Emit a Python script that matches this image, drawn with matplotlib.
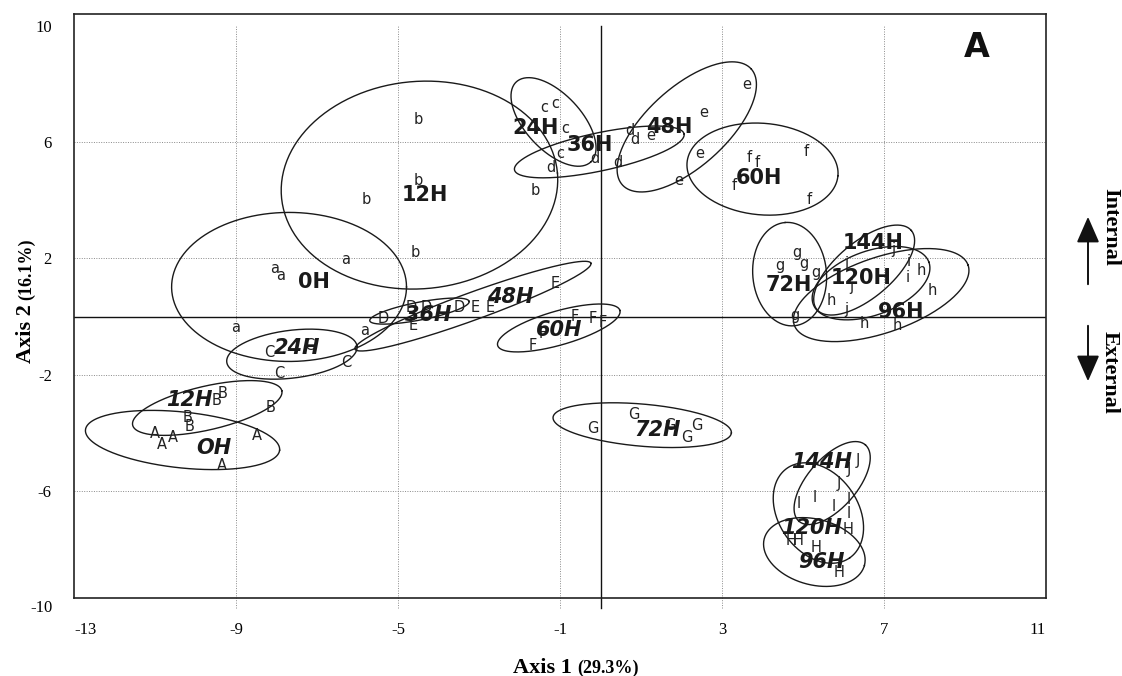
import numpy as np
import matplotlib
matplotlib.use('Agg')
import matplotlib.pyplot as plt

# ---- data: internal (lowercase) groups ----
int_names = ['0H', '12H', '24H', '36H', '48H', '60H', '72H', '96H', '120H', '144H']
int_letters = ['a', 'b', 'c', 'd', 'e', 'f', 'g', 'h', 'i', 'j']
int_a = [(-8.04, 1.67), (-7.91, 1.40), (-6.29, 1.98), (-9.02, -0.39), (-5.83, -0.49)]
int_b = [(-4.50, 6.76), (-4.50, 4.69), (-5.78, 4.01), (-4.57, 2.22), (-1.60, 4.35)]
int_c = [(-1.38, 7.20), (-1.11, 7.34), (-0.86, 6.48), (-0.99, 5.62)]
int_d = [(-1.23, 5.14), (-0.13, 5.45), (0.42, 5.28), (0.73, 6.41), (0.86, 6.07)]
int_e = [(3.61, 7.96), (2.55, 7.00), (1.23, 6.24), (2.45, 5.62), (1.94, 4.69)]
int_f = [(3.68, 5.48), (3.86, 5.28), (5.08, 5.66), (5.16, 4.01), (3.29, 4.52)]
int_g = [(4.42, 1.77), (4.84, 2.19), (5.01, 1.84), (5.33, 1.50), (4.79, 0.05)]
int_h = [(5.70, 0.57), (6.51, -0.22), (7.34, -0.29), (7.91, 1.60), (8.20, 0.91)]
int_i = [(6.07, 1.84), (7.61, 1.88), (7.59, 1.33)]
int_j = [(6.19, 1.02), (6.07, 0.23), (7.22, 2.29)]
int_points = [int_a, int_b, int_c, int_d, int_e, int_f, int_g, int_h, int_i, int_j]
int_lab_x = [-7.08, -4.33, -1.60, -0.27, 1.69, 3.90, 4.64, 7.42, 6.43, 6.73]
int_lab_y = [1.19, 4.18, 6.48, 5.90, 6.52, 4.76, 1.09, 0.16, 1.33, 2.53]
# ellipse: centre, semi-axes (x units), angle (deg)
int_ell_cx = [-7.69, -4.47, -1.16, -0.03, 2.13, 4.00, 4.67, 6.93, 6.68, 6.51]
int_ell_cy = [1.02, 4.52, 6.69, 5.66, 6.52, 5.07, 1.46, 0.74, 1.15, 1.60]
int_ell_a = [2.90, 3.42, 1.35, 2.14, 2.14, 1.87, 1.28, 2.27, 1.52, 1.52]
int_ell_b = [1.84, 2.56, 0.69, 0.47, 0.98, 1.13, 0.91, 0.93, 0.79, 0.69]
int_ell_ang = [0, 5, -47, 12, 42, -5, 95, 19, 20, 40]

# ---- data: external (uppercase) groups ----
ext_names = ['OH', '12H', '24H', '36H', '48H', '60H', '72H', '96H', '120H', '144H']
ext_letters = ['A', 'B', 'C', 'D', 'E', 'F', 'G', 'H', 'I', 'J']
ext_A = [(-11.01, -4.00), (-10.84, -4.41), (-10.57, -4.14), (-8.48, -4.07), (-9.34, -5.10)]
ext_B = [(-9.34, -2.63), (-9.49, -2.87), (-8.14, -3.14), (-10.20, -3.48), (-10.15, -3.79)]
ext_C = [(-8.18, -1.25), (-7.94, -1.94), (-6.29, -1.56), (-7.20, -0.98)]
ext_D = [(-5.36, -0.05), (-4.67, 0.30), (-4.30, 0.33), (-3.49, 0.30)]
ext_E = [(-4.62, -0.32), (-3.10, 0.30), (-2.73, 0.30), (-1.11, 1.15)]
ext_F = [(-1.67, -0.98), (-0.64, -0.01), (-0.20, -0.05), (0.05, -0.19), (-1.43, -0.57)]
ext_G = [(-0.20, -3.83), (0.83, -3.38), (2.14, -4.14), (2.38, -3.73), (1.72, -3.73)]
ext_H = [(4.71, -7.68), (4.89, -7.68), (5.33, -7.95), (5.89, -8.78), (6.12, -7.33)]
ext_I = [(4.89, -6.41), (5.28, -6.23), (5.75, -6.54), (6.12, -6.30), (6.12, -6.75)]
ext_J = [(5.89, -5.72), (6.14, -5.27), (6.36, -4.93)]
ext_points = [ext_A, ext_B, ext_C, ext_D, ext_E, ext_F, ext_G, ext_H, ext_I, ext_J]
ext_lab_x = [-9.54, -10.15, -7.50, -4.25, -2.24, -1.01, 1.40, 5.45, 5.21, 5.45]
ext_lab_y = [-4.52, -2.87, -1.08, 0.05, 0.67, -0.46, -3.90, -8.43, -7.26, -5.00]
ext_ell_cx = [-10.32, -9.71, -7.62, -4.47, -3.15, -1.03, 1.03, 5.28, 5.38, 5.72]
ext_ell_cy = [-4.24, -3.14, -1.29, 0.19, 0.36, -0.39, -3.73, -8.09, -6.75, -5.72]
ext_ell_a = [2.41, 1.89, 1.62, 1.25, 3.10, 1.57, 2.21, 1.28, 1.35, 1.25]
ext_ell_b = [0.69, 0.54, 0.59, 0.22, 0.34, 0.42, 0.52, 0.81, 0.98, 0.61]
ext_ell_ang = [-6, 13, 7, 11, 20, 16, -5, -15, -55, 49]

x_ticks = [-13, -9, -5, -1, 3, 7, 11]
y_ticks = [-10, -6, -2, 2, 6, 10]

SERIF = 'Liberation Serif'
SANS = 'DejaVu Sans'


def draw_ellipse(ax, cx, cy, a, b, ang, k):
    t = np.linspace(0, 2 * np.pi, 240)
    th = np.radians(ang)
    dx = a * np.cos(t) * np.cos(th) - b * np.sin(t) * np.sin(th)
    dy = a * np.cos(t) * np.sin(th) + b * np.sin(t) * np.cos(th)
    ax.plot(cx + dx, cy + dy * k, color='#1a1a1a', lw=1.0, zorder=3)


fig = plt.figure(figsize=(11.22, 6.76), dpi=100)
ax = fig.add_axes([74 / 1122, 1 - 598 / 676, 972 / 1122, 584 / 676])
ax.set_xlim(-13, 11)
ax.set_ylim(-9.67, 10.40)

# ratio of pixels per x unit to pixels per y unit
pos = ax.get_position()
k = (pos.width * 1122 / 24.0) / (pos.height * 676 / 20.07)

for s in ax.spines.values():
    s.set_linewidth(1.2)
    s.set_color('#222222')

# grid
for xv in x_ticks[1:-1]:
    ax.plot([xv, xv], [-10, 10], color='#8a8a8a', lw=0.7, ls=(0, (1, 1.5)),
            clip_on=False, zorder=1)
for yv in y_ticks[1:-1]:
    ax.plot([-13, 11], [yv, yv], color='#8a8a8a', lw=0.7, ls=(0, (1, 1.5)), zorder=1)

# axis lines
ax.plot([0, 0], [-10, 10], color='#111111', lw=1.0, clip_on=False, zorder=2)
ax.axhline(0, color='#111111', lw=1.0, zorder=2)

# ticks
ax.set_xticks(x_ticks)
ax.set_xticklabels([str(v) for v in x_ticks], family=SERIF, fontsize=12)
ax.set_yticks(y_ticks[1:])
ax.set_yticklabels([str(v) for v in y_ticks[1:]], family=SERIF, fontsize=12)
ax.tick_params(axis='x', length=0, pad=17)
ax.tick_params(axis='y', length=0, pad=16)
xl = ax.get_xticklabels()
xl[0].set_ha('left')
xl[-1].set_ha('right')
ax.text(-13.54, y_ticks[0], str(y_ticks[0]), ha='right', va='center',
        family=SERIF, fontsize=12, clip_on=False)

# groups
for i in range(len(int_names)):
    draw_ellipse(ax, int_ell_cx[i], int_ell_cy[i], int_ell_a[i], int_ell_b[i],
                 int_ell_ang[i], k)
    for (px, py) in int_points[i]:
        ax.text(px, py, int_letters[i], ha='center', va='center', family=SANS,
                fontsize=10.5, color='#222222', zorder=4)
    ax.text(int_lab_x[i], int_lab_y[i], int_names[i], ha='center', va='center',
            family=SANS, fontsize=15, fontweight='bold', color='#1a1a1a', zorder=5)

for i in range(len(ext_names)):
    draw_ellipse(ax, ext_ell_cx[i], ext_ell_cy[i], ext_ell_a[i], ext_ell_b[i],
                 ext_ell_ang[i], k)
    for (px, py) in ext_points[i]:
        ax.text(px, py, ext_letters[i], ha='center', va='center', family=SANS,
                fontsize=10.5, color='#222222', zorder=4)
    ax.text(ext_lab_x[i], ext_lab_y[i], ext_names[i], ha='center', va='center',
            family=SANS, fontsize=15, fontweight='bold', fontstyle='italic',
            color='#1a1a1a', zorder=5)

# panel letter
ax.text(9.3, 9.25, 'A', ha='center', va='center', family=SANS, fontsize=24,
        fontweight='bold', color='#111111')

# axis titles
fig.text(572 / 1122, 3 / 676, 'Axis 1', ha='right', va='baseline', family=SERIF,
         fontsize=16, fontweight='bold')
fig.text(577 / 1122, 3 / 676, '(29.3%)', ha='left', va='baseline', family=SERIF,
         fontsize=13, fontweight='bold')
fig.text(31 / 1122, 1 - 304 / 676, 'Axis 2', ha='right', va='baseline', rotation=90,
         rotation_mode='anchor', family=SERIF, fontsize=16, fontweight='bold')
fig.text(31 / 1122, 1 - 300 / 676, '(16.1%)', ha='left', va='baseline', rotation=90,
         rotation_mode='anchor', family=SERIF, fontsize=13, fontweight='bold')

# internal / external arrows
fig.text(1110 / 1122, 1 - 227 / 676, 'Internal', rotation=-90, ha='center', va='center',
         family=SERIF, fontsize=16, fontweight='bold')
fig.text(1110 / 1122, 1 - 372 / 676, 'External', rotation=-90, ha='center', va='center',
         family=SERIF, fontsize=16, fontweight='bold')
fig.add_artist(matplotlib.patches.FancyArrowPatch(
    (1088 / 1122, 1 - 287 / 676), (1088 / 1122, 1 - 214 / 676),
    transform=fig.transFigure, arrowstyle='-|>,head_length=8,head_width=3.5',
    color='#111111', lw=1.4, mutation_scale=2))
fig.add_artist(matplotlib.patches.FancyArrowPatch(
    (1088 / 1122, 1 - 323 / 676), (1088 / 1122, 1 - 384 / 676),
    transform=fig.transFigure, arrowstyle='-|>,head_length=8,head_width=3.5',
    color='#111111', lw=1.4, mutation_scale=2))

fig.savefig('out.png', dpi=100)
